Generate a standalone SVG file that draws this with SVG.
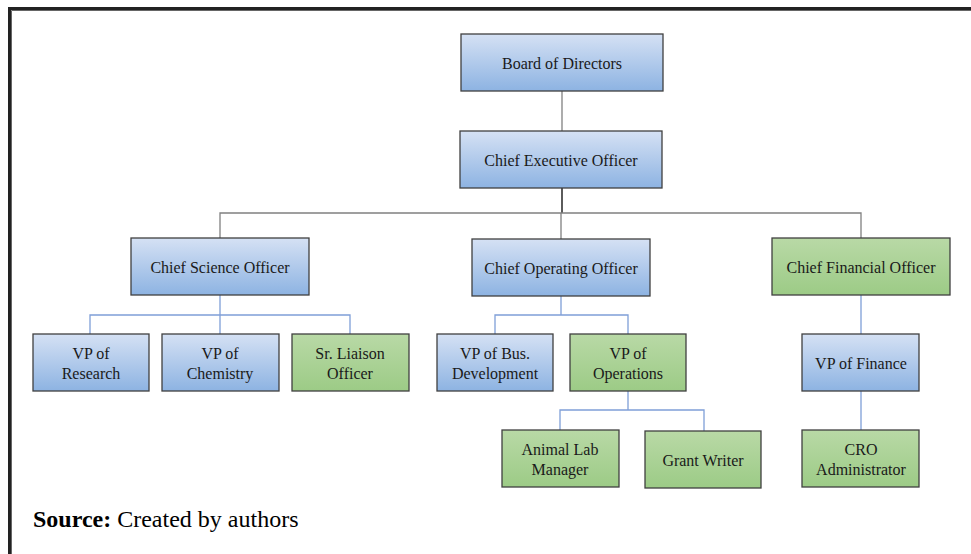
<svg xmlns="http://www.w3.org/2000/svg" width="971" height="554" viewBox="0 0 971 554">
<defs>
<linearGradient id="gb" x1="0" y1="0" x2="0" y2="1">
<stop offset="0" stop-color="#d5e1f4"/>
<stop offset="1" stop-color="#8db3e2"/>
</linearGradient>
<linearGradient id="gg" x1="0" y1="0" x2="0" y2="1">
<stop offset="0" stop-color="#b9d9a6"/>
<stop offset="1" stop-color="#9ccb86"/>
</linearGradient>
<style>
.blue{fill:url(#gb);stroke:#404040;stroke-width:1.3}
.green{fill:url(#gg);stroke:#404040;stroke-width:1.3}
text{font-family:"Liberation Serif","Times New Roman",serif;font-size:16px;fill:#1a1a1a;text-anchor:middle}
.gray{stroke:#808080;stroke-width:1.3;fill:none}
.dark{stroke:#333;stroke-width:1.6;fill:none}
.bl{stroke:#7f9fd8;stroke-width:1.3;fill:none}
</style>
</defs>
<rect width="971" height="554" fill="#fff"/>
<path d="M9.5 554V8.5H971" stroke="#222" stroke-width="3" fill="none"/>
<path d="M11.5 554V10.5H971" stroke="#666" stroke-width="1" fill="none"/>
<g id="connectors">
<path class="gray" d="M562 91V131"/>
<path class="dark" d="M562 188V213"/>
<path class="gray" d="M220 238V213H861V238M561 213V239"/>
<path class="bl" d="M220 295V315M90 334V315H350V334M220 315V334"/>
<path class="bl" d="M561 296V315M495 334V315H628V334"/>
<path class="bl" d="M628 391V410M560 430V410H704V431"/>
<path class="bl" d="M861 295V334M861 391V430"/>
</g>
<g id="board"><rect class="blue" x="461" y="34" width="202" height="57"/><text x="562" y="69">Board of Directors</text></g>
<g id="ceo"><rect class="blue" x="460" y="131" width="202" height="57"/><text x="561" y="166">Chief Executive Officer</text></g>
<g id="cso"><rect class="blue" x="131" y="238" width="178" height="57"/><text x="220" y="273">Chief Science Officer</text></g>
<g id="coo"><rect class="blue" x="472" y="239" width="178" height="57"/><text x="561" y="274">Chief Operating Officer</text></g>
<g id="cfo"><rect class="green" x="772" y="238" width="178" height="57"/><text x="861" y="273">Chief Financial  Officer</text></g>
<g id="vp-research"><rect class="blue" x="33" y="334" width="116" height="57"/><text x="91" y="359">VP of</text><text x="91" y="379">Research</text></g>
<g id="vp-chemistry"><rect class="blue" x="162" y="334" width="117" height="57"/><text x="220" y="359">VP of</text><text x="220" y="379">Chemistry</text></g>
<g id="liaison"><rect class="green" x="292" y="334" width="117" height="57"/><text x="350" y="359">Sr. Liaison</text><text x="350" y="379">Officer</text></g>
<g id="vp-busdev"><rect class="blue" x="437" y="334" width="116" height="57"/><text x="495" y="359">VP of Bus.</text><text x="495" y="379">Development</text></g>
<g id="vp-ops"><rect class="green" x="570" y="334" width="116" height="57"/><text x="628" y="359">VP of</text><text x="628" y="379">Operations</text></g>
<g id="vp-finance"><rect class="blue" x="802" y="334" width="117" height="57"/><text x="861" y="369">VP of Finance</text></g>
<g id="animal-lab"><rect class="green" x="502" y="430" width="117" height="57"/><text x="560" y="455">Animal Lab</text><text x="560" y="475">Manager</text></g>
<g id="grant-writer"><rect class="green" x="645" y="431" width="116" height="57"/><text x="703" y="466">Grant Writer</text></g>
<g id="cro"><rect class="green" x="802" y="430" width="117" height="57"/><text x="861" y="455">CRO</text><text x="861" y="475">Administrator</text></g>
<text x="33" y="527" style="text-anchor:start;font-size:24px;fill:#000"><tspan font-weight="bold">Source:</tspan> Created by authors</text>
</svg>
